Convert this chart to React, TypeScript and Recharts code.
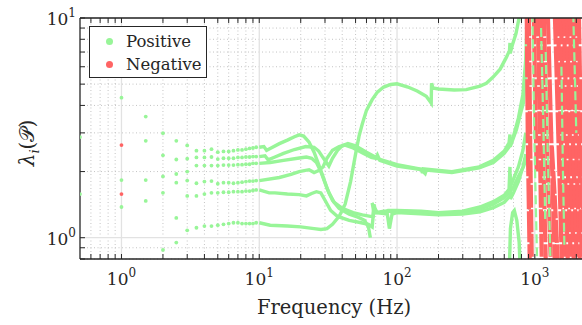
import React from 'react';
import { ComposedChart, Line, Scatter, XAxis, YAxis, ReferenceLine } from 'recharts';

const POS = '#98F598';
const NEG = '#FF6464';
const FONT = '"DejaVu Serif", "Liberation Serif", serif';

// sparse low-frequency samples (Hz) and eigenvalues
const lowFreqs = [0.5, 1, 1.5, 2, 2.5, 3];
const lowPositive = [
  [2.87, 1.58],
  [4.34, 1.83, 1.38],
  [3.56, 2.76, 1.83, 1.47],
  [2.99, 2.37, 1.9, 1.6, 0.88],
  [2.76, 2.27, 1.95, 1.78, 1.23, 0.95],
  [2.63, 2.29, 2.0, 1.82, 1.55, 1.08],
];
const lowNegative = [[], [2.64, 1.58], [], [], [], []];

// 3.5 - 9.5 Hz, six branches
const midFreqs = [3.5, 4, 4.5, 5, 5.5, 6, 6.5, 7, 7.5, 8, 8.5, 9, 9.5];
const midA = [2.49, 2.49, 2.53, 2.45, 2.47, 2.47, 2.49, 2.51, 2.51, 2.53, 2.55, 2.56, 2.58];
const midB = [2.32, 2.32, 2.33, 2.28, 2.3, 2.3, 2.3, 2.32, 2.32, 2.33, 2.33, 2.34, 2.34];
const midC = [2.13, 2.13, 2.13, 2.13, 2.14, 2.14, 2.14, 2.15, 2.15, 2.16, 2.16, 2.18, 2.18];
const midD = [1.77, 1.8, 1.81, 1.76, 1.78, 1.78, 1.77, 1.78, 1.79, 1.8, 1.81, 1.81, 1.82];
const midE = [1.55, 1.58, 1.6, 1.6, 1.61, 1.61, 1.62, 1.62, 1.62, 1.63, 1.63, 1.64, 1.65];
const midF = [1.11, 1.13, 1.13, 1.14, 1.15, 1.16, 1.17, 1.17, 1.16, 1.16, 1.16, 1.16, 1.17];

// dense part (>= 10 Hz), [freq, eigenvalue]
const curveA = [[10, 2.58], [10.8, 2.6], [11.3, 2.5], [12, 2.55], [14, 2.68], [16, 2.78], [18, 2.88], [19.5, 2.94], [21, 2.9], [23, 2.72], [25, 2.45], [27, 2.15], [29, 1.9], [31, 1.68], [34, 1.48], [38, 1.36], [45, 1.28], [52, 1.24], [58, 1.2], [62, 1.12], [64, 1.0]];
const curveB = [[10, 2.34], [11, 2.36], [11.6, 2.26], [13, 2.33], [15, 2.42], [18, 2.52], [21.8, 2.6], [25, 2.58], [27, 2.48], [29.5, 2.28], [32, 2.12], [34, 2.3], [37, 2.5], [40, 2.62], [44, 2.68], [50, 2.62], [60, 2.45], [74, 2.28], [100, 2.15], [150, 2.05], [153, 1.97], [155, 2.06], [250, 2.0], [395, 2.1], [500, 2.25], [600, 2.48], [650, 2.7], [660, 2.95], [663, 2.6], [700, 2.85], [735, 3.1], [790, 3.7], [826, 4.1], [850, 5.2], [870, 6.9], [890, 9.8], [895, 10.5]];
const curveC = [[10, 2.18], [12, 2.2], [15, 2.25], [19, 2.3], [22, 2.33], [24, 2.3], [26, 2.2], [28, 2.0], [30, 1.78], [32, 1.6], [35, 1.45], [40, 1.36], [48, 1.3], [56, 1.27], [64, 1.25], [67, 1.25], [68, 1.42], [70, 1.3], [80, 1.32], [100, 1.32], [150, 1.31], [200, 1.29], [300, 1.3], [400, 1.35], [500, 1.42], [600, 1.52], [660, 1.62], [700, 1.7], [760, 1.9], [826, 2.1], [870, 2.3]];
const curveD = [[10, 1.82], [14, 1.88], [17, 1.94], [19.5, 2.0], [23, 2.04], [25, 1.98], [27, 2.02], [29, 2.1], [31, 2.3], [34, 2.5], [38, 2.6], [42, 2.64], [48, 2.56], [55, 2.45], [65, 2.32], [70, 2.3], [72, 2.38], [75, 2.25], [100, 2.12], [150, 2.04], [160, 1.96], [163, 2.03], [250, 1.98], [395, 2.08], [500, 2.2], [600, 2.42], [660, 2.62], [700, 2.9], [760, 3.5], [820, 4.5], [860, 6.5], [880, 10.5]];
const curveE = [[10, 1.65], [11.8, 1.6], [13, 1.6], [16, 1.58], [19.5, 1.57], [22, 1.55], [24, 1.59], [26, 1.62], [28, 1.6], [30, 1.48], [33, 1.33], [37, 1.25], [45, 1.2], [55, 1.17], [62, 1.15], [66, 1.12], [68, 1.38], [72, 1.3], [85, 1.28], [88, 1.1], [92, 1.28], [100, 1.3], [200, 1.27], [300, 1.28], [400, 1.31], [500, 1.37], [600, 1.45], [660, 1.55], [662, 1.95], [665, 1.5], [700, 1.6], [760, 1.8], [820, 2.1], [860, 2.4]];
const curveF = [[10, 1.17], [12, 1.14], [16, 1.13], [20, 1.12], [25, 1.1], [28, 1.09], [31, 1.1], [34, 1.15], [38, 1.25], [42, 1.42], [46, 1.8], [50, 2.4], [53, 2.9], [56, 3.3], [60, 3.8], [66, 4.25], [72, 4.6], [80, 4.85], [90, 4.98], [100, 5.02], [120, 4.85], [140, 4.65], [163, 4.4], [177, 4.1], [178, 5.05], [182, 4.8], [200, 4.75], [260, 4.7], [318, 4.72], [400, 4.9], [445, 5.05], [500, 5.4], [560, 5.85], [620, 6.6], [655, 7.1], [660, 7.7], [663, 6.9], [690, 7.6], [730, 8.5], [780, 10.5]];
const curveG = [[66, 1.44], [68, 1.3], [80, 1.3], [86, 1.33], [100, 1.33], [150, 1.32], [200, 1.3], [300, 1.32], [400, 1.38], [500, 1.46], [600, 1.56], [650, 1.66], [660, 2.1], [662, 1.7], [700, 1.85], [760, 2.1], [820, 2.5], [860, 3]];
const curveH = [[655, 0.76], [665, 1.1], [690, 1.3], [710, 1.33], [740, 1.2], [770, 0.95], [780, 0.76]];

// high-frequency streaks above ~870 Hz
const negStreaks = [
  [[874, 10.5], [889, 2.8], [919, 0.76]],
  [[905, 10.5], [925, 2.8], [951, 0.76]],
  [[983, 10.5], [1017, 3], [1034, 2.0]],
  [[1051, 10.5], [1087, 2.8], [1124, 0.76]],
  [[1105, 10.5], [1143, 2.8], [1202, 0.76]],
  [[1163, 10.5], [1222, 2.8], [1307, 0.76]],
  [[1243, 10.5], [1290, 4.5], [1397, 0.76]],
  [[1329, 2.6], [1397, 1.5], [1470, 0.76]],
  [[1397, 10.5], [1440, 5.5], [1572, 0.76]],
  [[1470, 10.5], [1546, 2.8], [1653, 0.76]],
  [[1546, 10.5], [1625, 2.8], [1738, 0.76]],
  [[1625, 10.5], [1709, 2.8], [1827, 0.76]],
  [[1709, 10.5], [1797, 2.8], [1921, 0.76]],
  [[1797, 10.5], [1889, 2.8], [2020, 0.76]],
  [[1889, 10.5], [1986, 2.8], [2124, 0.76]],
  [[1986, 10.5], [2089, 2.8], [2198, 0.76]],
  [[2089, 10.5], [2161, 2.8], [2300, 0.76]],
];
const posStreaks = [
  [[960, 10.5], [990, 3], [1040, 0.76]],
  [[1110, 9], [1150, 3.5], [1190, 1.2]],
  [[1200, 7], [1240, 2.5], [1300, 0.76]],
  [[1560, 6], [1600, 2], [1640, 0.9]],
  [[1900, 10.5], [1960, 5], [2000, 3]],
];

const xMajor = [1, 10, 100, 1000];
const xMinor = [0.6, 0.7, 0.8, 0.9, 2, 3, 4, 5, 6, 7, 8, 9, 20, 30, 40, 50, 60, 70, 80, 90, 200, 300, 400, 500, 600, 700, 800, 900, 2000];
const yMajor = [1, 10];
const yMinor = [0.8, 0.9, 2, 3, 4, 5, 6, 7, 8, 9];

const toPts = (c: number[][]) => c.map(([f, v]) => ({ f, v }));

const posDots = [
  ...lowFreqs.flatMap((f, i) => lowPositive[i].map((v) => ({ f, v }))),
  ...midFreqs.flatMap((f, i) => [midA, midB, midC, midD, midE, midF].map((b) => ({ f, v: b[i] }))),
];
const negDots = lowFreqs.flatMap((f, i) => lowNegative[i].map((v) => ({ f, v })));
const posCurves = [curveA, curveB, curveC, curveD, curveE, curveF, curveG, curveH];

const AXIS = '#262626';
const tickX = 1.0537; // ~5px in y (log units)
const tickY = 1.087; // ~5px in x

const XTick = ({ x, payload }: any) => {
  const e = Math.round(Math.log10(payload.value));
  return (
    <text x={x} y={285} textAnchor="middle" fontFamily={FONT} fontSize={17} fill={AXIS}>
      10<tspan dy={-8} fontSize={12}>{e}</tspan>
    </text>
  );
};

const YTick = ({ y, payload }: any) => {
  const e = Math.round(Math.log10(payload.value));
  return (
    <text x={76} y={y + 7} textAnchor="end" fontFamily={FONT} fontSize={17} fill={AXIS}>
      10<tspan dy={-8} fontSize={12}>{e}</tspan>
    </text>
  );
};

const XTitle = () => (
  <text x={334} y={314} textAnchor="middle" fontFamily={FONT} fontSize={19.5} fill={AXIS}>
    Frequency (Hz)
  </text>
);

const YTitle = () => (
  <text x={0} y={0} transform="translate(34 143) rotate(-90)" textAnchor="middle" fontFamily={FONT} fontSize={20} fill={AXIS}>
    <tspan fontStyle="italic">λ</tspan>
    <tspan fontStyle="italic" fontSize={13} dy={5}>i</tspan>
    <tspan dy={-5}>(𝒫)</tspan>
  </text>
);

export default function App() {
  return (
    <div style={{ position: 'relative', width: 582, height: 325, background: '#fff' }}>
      <style>{'body{margin:0}'}</style>
      <ComposedChart width={582} height={325} margin={{ top: 18, right: 0, bottom: 16, left: 0 }}>
        <XAxis
          type="number"
          dataKey="f"
          scale="log"
          domain={[0.5, 2200]}
          allowDataOverflow
          ticks={xMajor}
          tick={<XTick />}
          tickLine={false}
          axisLine={false}
          height={50}
          label={<XTitle />}
        />
        <YAxis
          type="number"
          dataKey="v"
          scale="log"
          domain={[0.8, 10]}
          allowDataOverflow
          ticks={yMajor}
          tick={<YTick />}
          tickLine={false}
          axisLine={false}
          width={80}
          label={<YTitle />}
        />
        {xMinor.map((v) => (
          <ReferenceLine key={`gx${v}`} x={v} stroke="#c4c4c4" strokeDasharray="1 2.5" />
        ))}
        {yMinor.map((v) => (
          <ReferenceLine key={`gy${v}`} y={v} stroke="#c4c4c4" strokeDasharray="1 2.5" />
        ))}
        {xMajor.map((v) => (
          <ReferenceLine key={`mx${v}`} x={v} stroke="#e2e2e2" strokeWidth={1.3} />
        ))}
        {yMajor.map((v) => (
          <ReferenceLine key={`my${v}`} y={v} stroke="#e2e2e2" strokeWidth={1.3} />
        ))}

        <Scatter data={posDots} fill={POS} isAnimationActive={false} shape={(p: any) => <circle cx={p.cx} cy={p.cy} r={1.9} fill={POS} />} />
        <Scatter data={negDots} fill={NEG} isAnimationActive={false} shape={(p: any) => <circle cx={p.cx} cy={p.cy} r={1.9} fill={NEG} />} />
        {posCurves.map((c, i) => (
          <Line key={`pc${i}`} data={toPts(c)} dataKey="v" type="linear" stroke={POS} strokeWidth={3.4} dot={false} activeDot={false} isAnimationActive={false} />
        ))}
        {negStreaks.map((c, i) => (
          <Line key={`ns${i}`} data={toPts(c)} dataKey="v" type="linear" stroke={NEG} strokeWidth={4.2} strokeDasharray={i % 2 ? '23 1.5' : '31 2'} dot={false} activeDot={false} isAnimationActive={false} />
        ))}
        {posStreaks.map((c, i) => (
          <Line key={`ps${i}`} data={toPts(c)} dataKey="v" type="linear" stroke={POS} strokeWidth={2.2} strokeDasharray="9 4" dot={false} activeDot={false} isAnimationActive={false} />
        ))}

        {[...xMajor, ...xMinor].map((v) => (
          <ReferenceLine key={`tb${v}`} segment={[{ x: v, y: 0.8 }, { x: v, y: 0.8 * tickX }]} stroke={AXIS} />
        ))}
        {[...xMajor, ...xMinor].map((v) => (
          <ReferenceLine key={`tt${v}`} segment={[{ x: v, y: 10 }, { x: v, y: 10 / tickX }]} stroke={AXIS} />
        ))}
        {[...yMajor, ...yMinor].map((v) => (
          <ReferenceLine key={`tl${v}`} segment={[{ x: 0.5, y: v }, { x: 0.5 * tickY, y: v }]} stroke={AXIS} />
        ))}
        <ReferenceLine y={0.8} stroke={AXIS} strokeWidth={1.3} />
        <ReferenceLine y={10} stroke={AXIS} strokeWidth={1.3} />
        <ReferenceLine x={0.5} stroke={AXIS} strokeWidth={1.3} />
      </ComposedChart>

      <div
        style={{
          position: 'absolute',
          left: 89,
          top: 26,
          width: 116,
          height: 50,
          border: `1px solid ${AXIS}`,
          background: '#fff',
          fontFamily: FONT,
          fontSize: 16.5,
          color: AXIS,
        }}
      >
        {[
          { name: 'Positive', color: POS },
          { name: 'Negative', color: NEG },
        ].map((entry, index) => (
          <div key={index} style={{ position: 'absolute', left: 0, top: 3 + index * 23.5, height: 22, display: 'flex', alignItems: 'center' }}>
            <span style={{ width: 7, height: 7, borderRadius: '50%', background: entry.color, marginLeft: 16, marginRight: 13 }} />
            <span>{entry.name}</span>
          </div>
        ))}
      </div>
    </div>
  );
}
